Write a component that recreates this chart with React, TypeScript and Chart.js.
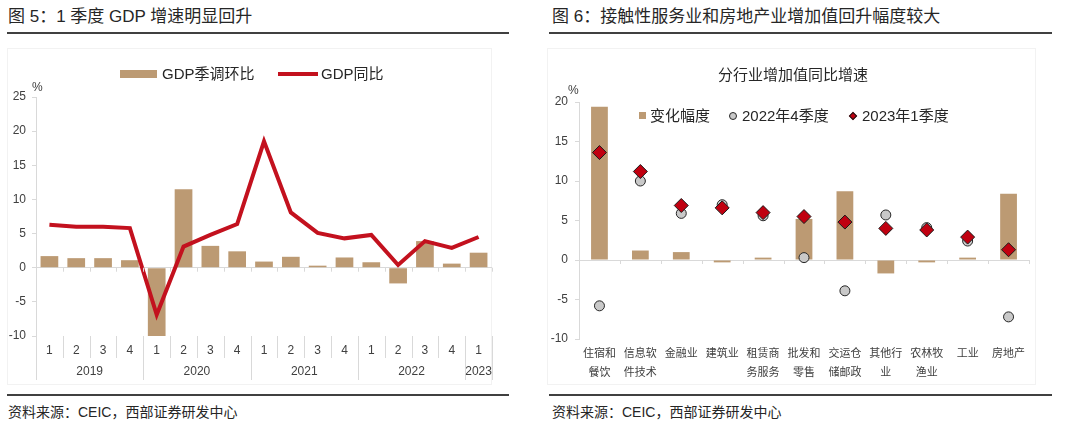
import React, { useEffect, useRef } from "react";
import { Chart, registerables } from "chart.js";
Chart.register(...registerables);

// ---------- Data: left chart ----------
const quarterLabels = ["1", "2", "3", "4", "1", "2", "3", "4", "1", "2", "3", "4", "1", "2", "3", "4", "1"];
const yearLabels = ["2019", "2020", "2021", "2022", "2023"];
const yearSpans = [4, 4, 4, 4, 1];
const gdpQoQ = [1.7, 1.4, 1.4, 1.1, -10.0, 11.5, 3.2, 2.4, 0.9, 1.6, 0.3, 1.5, 0.8, -2.3, 3.9, 0.6, 2.2];
const gdpYoY = [6.3, 6.0, 6.0, 5.8, -6.9, 3.1, 4.8, 6.4, 18.5, 8.1, 5.1, 4.3, 4.8, 0.4, 3.9, 2.9, 4.5];

// ---------- Data: right chart ----------
const industries = [
  ["住宿和", "餐饮"],
  ["信息软", "件技术"],
  ["金融业"],
  ["建筑业"],
  ["租赁商", "务服务"],
  ["批发和", "零售"],
  ["交运仓", "储邮政"],
  ["其他行", "业"],
  ["农林牧", "渔业"],
  ["工业"],
  ["房地产"],
];
const changeValues = [19.4, 1.2, 1.0, -0.3, 0.3, 5.2, 8.7, -1.7, -0.3, 0.3, 8.4];
const q4of2022 = [-5.8, 10.0, 5.9, 7.0, 5.6, 0.3, -3.9, 5.7, 4.1, 2.4, -7.2];
const q1of2023 = [13.6, 11.2, 6.9, 6.6, 6.0, 5.5, 4.8, 4.0, 3.8, 2.9, 1.3];

const TAN = "#BC9A73";
const RED = "#C3111E";
const GRID = "#D9D9D9";
const TICK = "#404040";
const FONT = '"Liberation Sans", "Noto Sans CJK SC", Arial, sans-serif';

const leftPlugin = {
  id: "leftDecor",
  afterDraw(chart: any) {
    const { ctx, chartArea, scales } = chart;
    const y0 = scales.y.getPixelForValue(0);
    const n = quarterLabels.length;
    const w = (chartArea.right - chartArea.left) / n;
    ctx.save();
    ctx.strokeStyle = GRID;
    ctx.lineWidth = 1;
    ctx.beginPath();
    for (let i = 1; i <= n; i++) {
      const px = Math.round(chartArea.left + i * w) + 0.5;
      ctx.moveTo(px, y0);
      ctx.lineTo(px, y0 + 4);
    }
    const yearBounds = new Set<number>();
    let acc = 0;
    yearBounds.add(0);
    yearSpans.forEach((s) => {
      acc += s;
      yearBounds.add(acc);
    });
    for (let i = 0; i <= n; i++) {
      const px = Math.round(chartArea.left + i * w) + 0.5;
      const len = yearBounds.has(i) ? 44 : 22;
      ctx.moveTo(px, chartArea.bottom);
      ctx.lineTo(px, chartArea.bottom + len);
    }
    ctx.stroke();
    ctx.fillStyle = TICK;
    ctx.font = "12px " + FONT;
    ctx.textAlign = "center";
    ctx.textBaseline = "middle";
    let start = 0;
    yearLabels.forEach((yl, k) => {
      const cx = chartArea.left + (start + yearSpans[k] / 2) * w;
      ctx.fillText(yl, cx, chartArea.bottom + 36);
      start += yearSpans[k];
    });
    ctx.restore();
  },
};

const rightPlugin = {
  id: "rightDecor",
  afterDraw(chart: any) {
    const { ctx, chartArea, scales } = chart;
    const y0 = scales.y.getPixelForValue(0);
    const n = industries.length;
    const w = (chartArea.right - chartArea.left) / n;
    ctx.save();
    ctx.strokeStyle = GRID;
    ctx.lineWidth = 1;
    ctx.beginPath();
    for (let i = 1; i <= n; i++) {
      const px = Math.round(chartArea.left + i * w) + 0.5;
      ctx.moveTo(px, y0);
      ctx.lineTo(px, y0 + 4);
    }
    ctx.stroke();
    ctx.restore();
  },
};

function LeftChart() {
  const ref = useRef<HTMLCanvasElement>(null);
  useEffect(() => {
    const chart = new Chart(ref.current!, {
      data: {
        labels: quarterLabels,
        datasets: [
          {
            type: "line",
            label: "GDP同比",
            data: gdpYoY,
            borderColor: RED,
            backgroundColor: RED,
            borderWidth: 4,
            pointRadius: 0,
            tension: 0,
            order: 0,
          } as any,
          {
            type: "bar",
            label: "GDP季调环比",
            data: gdpQoQ,
            backgroundColor: TAN,
            barPercentage: 0.66,
            categoryPercentage: 1,
            order: 1,
          } as any,
        ],
      },
      options: {
        responsive: false,
        animation: false,
        layout: { padding: { left: 0, right: 28, top: 57, bottom: 0 } },
        plugins: { legend: { display: false }, tooltip: { enabled: false } },
        scales: {
          x: {
            grid: { display: false, drawTicks: false },
            border: { display: false },
            ticks: { padding: 7.5, color: TICK, font: { size: 12, family: FONT } },
            afterFit: (s: any) => {
              s.height = 54;
            },
          },
          y: {
            min: -10,
            max: 25,
            ticks: { stepSize: 5, color: TICK, padding: 6, font: { size: 12, family: FONT } },
            grid: {
              color: (c: any) => (c.tick && c.tick.value === 0 ? GRID : "rgba(0,0,0,0)"),
              tickColor: GRID,
              tickLength: 4,
              lineWidth: 1,
            },
            border: { color: GRID },
            afterFit: (s: any) => {
              s.width = 36;
            },
          },
        },
      } as any,
      plugins: [leftPlugin],
    });
    return () => chart.destroy();
  }, []);
  return <canvas ref={ref} width={520} height={350} style={{ position: "absolute", left: 0, top: 40, display: "block" }} />;
}

function RightChart() {
  const ref = useRef<HTMLCanvasElement>(null);
  useEffect(() => {
    const chart = new Chart(ref.current!, {
      data: {
        labels: industries,
        datasets: [
          {
            type: "line",
            label: "2023年1季度",
            data: q1of2023,
            showLine: false,
            pointStyle: "rectRot",
            pointRadius: 7,
            pointBackgroundColor: "#C00010",
            pointBorderColor: "#1A1A1A",
            pointBorderWidth: 1,
            order: 1,
          } as any,
          {
            type: "line",
            label: "2022年4季度",
            data: q4of2022,
            showLine: false,
            pointStyle: "circle",
            pointRadius: 5,
            pointBackgroundColor: "#C9C9C9",
            pointBorderColor: "#262626",
            pointBorderWidth: 1,
            order: 2,
          } as any,
          {
            type: "bar",
            label: "变化幅度",
            data: changeValues,
            backgroundColor: TAN,
            barPercentage: 0.41,
            categoryPercentage: 1,
            order: 3,
          } as any,
        ],
      },
      options: {
        responsive: false,
        animation: false,
        layout: { padding: { left: 0, right: 41, top: 62, bottom: 0 } },
        plugins: { legend: { display: false }, tooltip: { enabled: false } },
        scales: {
          x: {
            grid: { display: false, drawTicks: false },
            border: { display: false },
            ticks: {
              padding: 4.75,
              color: TICK,
              maxRotation: 0,
              autoSkip: false,
              font: { size: 11, family: '"Noto Sans CJK SC", sans-serif', lineHeight: 1.68 },
            },
            afterFit: (s: any) => {
              s.height = 51;
            },
          },
          y: {
            min: -10,
            max: 20,
            ticks: { stepSize: 5, color: TICK, padding: 7, font: { size: 12, family: FONT } },
            grid: {
              color: (c: any) => (c.tick && c.tick.value === 0 ? GRID : "rgba(0,0,0,0)"),
              tickColor: GRID,
              tickLength: 4,
              lineWidth: 1,
            },
            border: { color: GRID },
            afterFit: (s: any) => {
              s.width = 39;
            },
          },
        },
      } as any,
      plugins: [rightPlugin],
    });
    return () => chart.destroy();
  }, []);
  return <canvas ref={ref} width={530} height={350} style={{ position: "absolute", left: 540, top: 40, display: "block" }} />;
}

const txt = (left: number, cy: number, size: number, content: React.ReactNode, extra: React.CSSProperties = {}) => (
  <div
    style={{
      position: "absolute",
      left,
      top: cy - 12,
      height: 24,
      lineHeight: "24px",
      fontSize: size,
      fontFamily: FONT,
      color: "#262626",
      whiteSpace: "nowrap",
      ...extra,
    }}
  >
    {content}
  </div>
);

const box = (left: number, top: number, width: number, height: number, style: React.CSSProperties) => (
  <div style={{ position: "absolute", left, top, width, height, ...style }} />
);

export default function App() {
  return (
    <div style={{ position: "absolute", left: 0, top: 0, width: 1080, height: 427, background: "#fff", overflow: "hidden" }}>
      {/* Left panel */}
      {txt(8, 17, 17, "图 5：1 季度 GDP 增速明显回升")}
      {box(7, 32, 502, 2, { background: "#404040" })}
      {box(7, 48, 485, 337, { border: "1px solid #F2F2F2", boxSizing: "border-box" })}
      <LeftChart />
      {txt(32, 87, 12, "%", { color: TICK })}
      {box(120, 70, 37, 8, { background: TAN })}
      {txt(162, 74, 15, "GDP季调环比")}
      {box(278, 72, 40, 4, { background: RED })}
      {txt(321, 74, 15, "GDP同比")}
      {box(7, 394, 502, 2, { background: "#404040" })}
      {txt(8, 412, 14, "资料来源：CEIC，西部证券研发中心")}

      {/* Right panel */}
      {txt(552, 17, 17, "图 6：接触性服务业和房地产业增加值回升幅度较大")}
      {box(549, 32, 503, 2, { background: "#404040" })}
      {box(547, 48, 489, 337, { border: "1px solid #F2F2F2", boxSizing: "border-box" })}
      <RightChart />
      {txt(693, 75, 15, "分行业增加值同比增速", { width: 200, textAlign: "center" })}
      {txt(568, 90, 12, "%", { color: TICK })}
      {box(639, 112, 7, 7, { background: TAN })}
      {txt(650, 116, 15, "变化幅度")}
      {box(729, 112, 8, 8, { background: "#C9C9C9", border: "1px solid #262626", borderRadius: "50%", boxSizing: "border-box" })}
      {txt(742, 116, 15, "2022年4季度")}
      {box(850, 113, 6, 6, { background: "#C00010", border: "1px solid #1A1A1A", transform: "rotate(45deg)", boxSizing: "border-box" })}
      {txt(862, 116, 15, "2023年1季度")}
      {box(549, 394, 503, 2, { background: "#404040" })}
      {txt(552, 412, 14, "资料来源：CEIC，西部证券研发中心")}
    </div>
  );
}
